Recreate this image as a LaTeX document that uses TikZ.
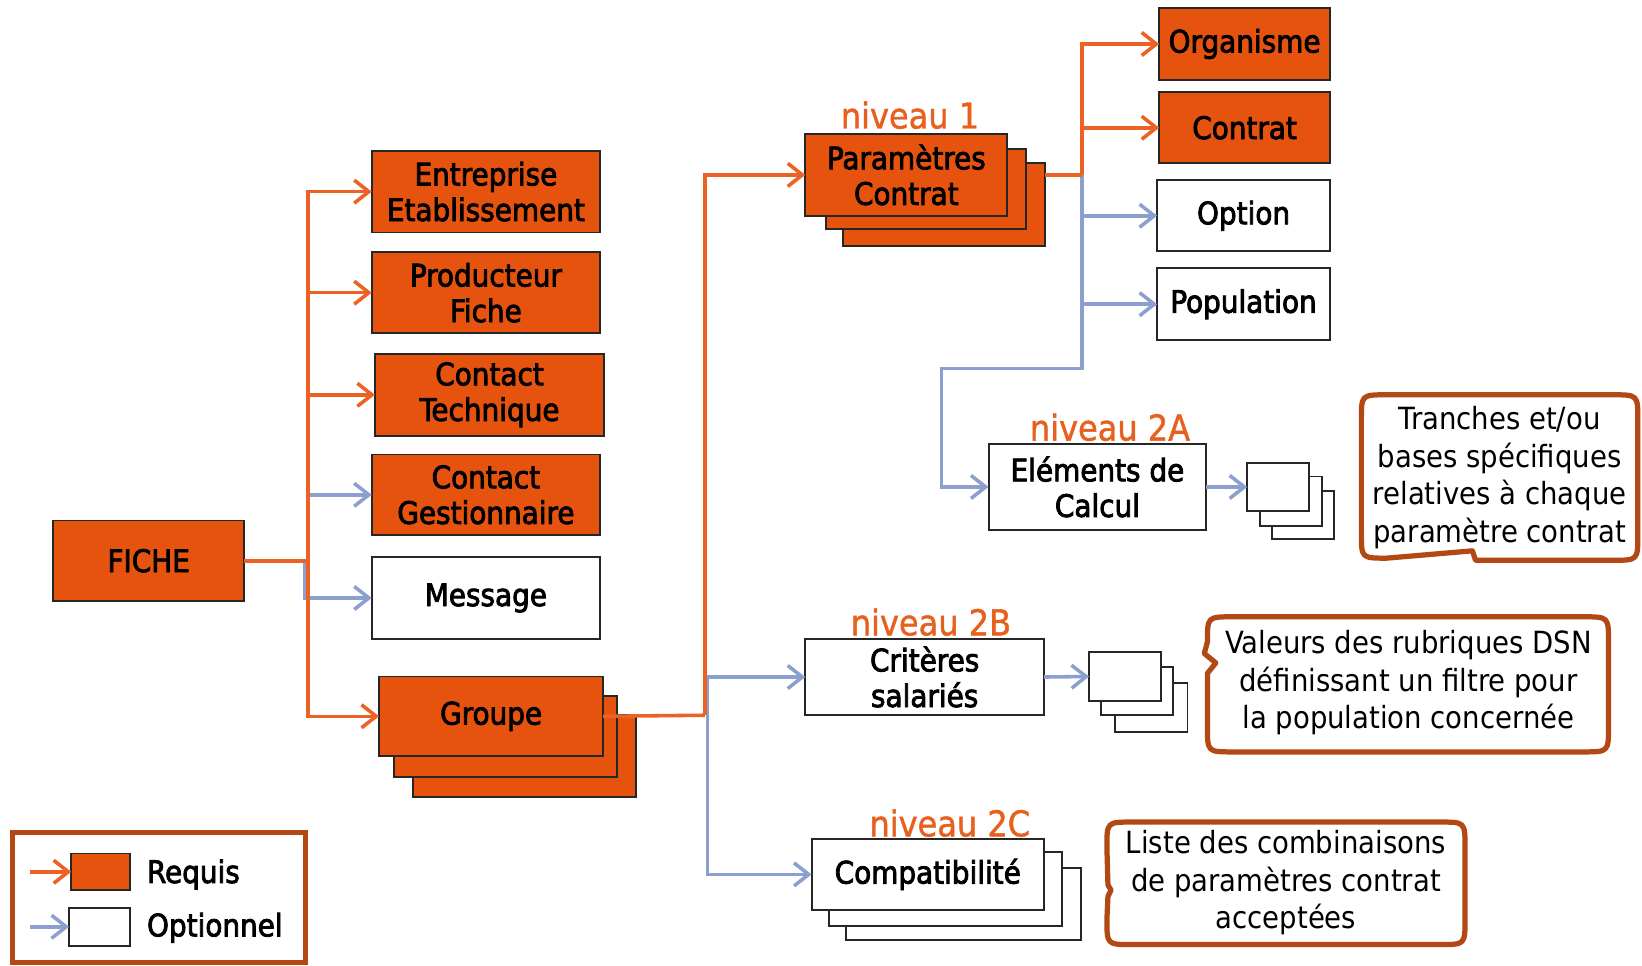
\documentclass[tikz,border=0pt]{standalone}
\usepackage{fontspec}
\setmainfont{DejaVu Sans Condensed}
\newfontfamily\boxfont{DejaVu Sans Condensed}[FakeBold=2.6]
\newfontfamily\nivfont{DejaVu Sans Condensed}[FakeBold=1.2]
\usetikzlibrary{arrows.meta}
\definecolor{orfill}{RGB}{229,83,15}
\definecolor{orline}{RGB}{236,98,36}
\definecolor{blu}{RGB}{140,160,208}
\definecolor{brn}{RGB}{178,72,20}
\definecolor{niv}{RGB}{232,96,30}
\begin{document}
\begin{tikzpicture}[x=0.5pt,y=-0.5pt,
  sz/.style 2 args={minimum width={#1*0.5pt}, minimum height={#2*0.5pt}},
  box/.style={draw=black!85, line width=0.9pt, inner sep=0pt, outer sep=0pt, align=center,
    font=\boxfont\fontsize{14.8}{17}\selectfont},
  reqbox/.style={box, fill=orfill},
  optbox/.style={box, fill=white},
  req/.style={draw=orline, line width=1.7pt},
  opt/.style={draw=blu, line width=1.7pt},
  tip/.style={-{Straight Barb[length=7pt,width=11pt]}},
  niveau/.style={text=niv, font=\nivfont\fontsize{17}{20}\selectfont, inner sep=0pt},
  note/.style={align=center, font=\fontsize{14.6}{18}\selectfont, inner sep=0pt},
  callout/.style={draw=brn, line width=2.5pt, line join=round},
  legtext/.style={anchor=west, inner sep=0pt, font=\boxfont\fontsize{14.8}{16}\selectfont},
]
\useasboundingbox (0,0) rectangle (1568,922);

% ---------- left part
\node[reqbox, sz={182}{77}] (fiche) at (142,535.5) {FICHE};
\node[reqbox, sz={218}{78}] (ent) at (464,183) {Entreprise\\Etablissement};
\node[reqbox, sz={218}{77}] (prod) at (464,279.5) {Producteur\\Fiche};
\node[reqbox, sz={219}{78}] (ctech) at (467.5,377) {Contact\\Technique};
\node[reqbox, sz={218}{77}] (cgest) at (464,472.5) {Contact\\Gestionnaire};
\node[optbox, sz={218}{78}] (msg) at (464,571) {Message};
\node[reqbox, sz={213}{78}] (grp3) at (500.5,722) {};
\node[reqbox, sz={213}{77}] (grp2) at (482.5,703.5) {};
\node[reqbox, sz={214}{76}] (grp) at (469,684) {Groupe};

\coordinate (jf) at (294,535.5);
\coordinate (jfb) at (291.5,535.5);
\draw[opt,tip] (jf) |- (cgest.west);
\draw[opt,tip] (jfb) |- (msg.west);
\draw[req] (fiche.east) -- (jf);
\draw[req,tip] (jf) |- (ent.west);
\draw[req,tip] (jf) |- (prod.west);
\draw[req,tip] (jf) |- (ctech.west);
\draw[req,tip] (jf) |- (grp.west);

% ---------- middle part
\node[reqbox, sz={193}{79}] (par3) at (901.5,195.5) {};
\node[reqbox, sz={191}{77}] (par2) at (884.5,180.5) {};
\node[reqbox, sz={193}{78}] (par) at (865.5,167) {Paramètres\\Contrat};
\node[niveau] (niv1) at (869,110) {niveau 1};

\node[optbox, sz={228}{73}] (crit) at (883,646.5) {Critères\\salariés};
\node[niveau] (niv2b) at (889,594) {niveau 2B};

\node[optbox, sz={224}{69}] (comp3) at (920,863.5) {};
\node[optbox, sz={222}{70}] (comp2) at (903,849) {};
\node[optbox, sz={222}{68}] (comp) at (886,835) {Compatibilité};
\node[niveau] (niv2c) at (907,786) {niveau 2C};

\coordinate (jg) at (673,683);
\coordinate (jgb) at (675.5,683);
\draw[opt,tip] (jgb) |- (crit.west);
\draw[opt,tip] (jgb) |- (comp.west);
\draw[req] (grp.east) -- (jg);
\draw[req,tip] (jg) |- (par.west);

% ---------- right part
\node[reqbox, sz={163}{68}] (org) at (1188.5,42) {Organisme};
\node[reqbox, sz={163}{68}] (con) at (1188.5,122) {Contrat};
\node[optbox, sz={165}{68}] (optn) at (1187.5,206) {Option};
\node[optbox, sz={165}{69}] (popn) at (1187.5,290.5) {Population};

\node[optbox, sz={208}{82}] (elem) at (1048,465) {Eléments de\\Calcul};
\node[niveau] (niv2a) at (1060,408) {niveau 2A};

\node[optbox, sz={59}{46}] (sa3) at (1244.5,492) {};
\node[optbox, sz={59}{47}] (sa2) at (1232.5,478.5) {};
\node[optbox, sz={59}{46}] (sa) at (1220.5,465) {};

\node[optbox, sz={69}{47}] (sb3) at (1099.5,675.5) {};
\node[optbox, sz={69}{46}] (sb2) at (1085.5,660) {};
\node[optbox, sz={69}{46}] (sb) at (1074.5,646) {};

\coordinate (jp) at (1033,167);
\coordinate (jb) at (899,352);
\draw[opt,tip] (jp) |- (optn.west);
\draw[opt,tip] (jp) |- (popn.west);
\draw[opt,tip] (jp) |- (jb) |- (elem.west);
\draw[req] (par3.east |- par.east) -- (jp);
\draw[req,tip] (jp) |- (org.west);
\draw[req,tip] (jp) |- (con.west);

\draw[opt,tip] (elem.east) -- (sa.west);
\draw[opt,tip] (crit.east) -- (sb.west);

% ---------- callouts
\draw[callout] (1324,377) -- (1540,377) .. controls (1564,377) .. (1564,401)
  -- (1564,511) .. controls (1564,535) .. (1540,535) -- (1409,535) -- (1406,526)
  -- (1324,533) .. controls (1300,533) .. (1300,509) -- (1300,401)
  .. controls (1300,377) .. (1324,377) -- cycle;
\node[note] (n1) at (1432,456) {Tranches et/ou\\bases spécifiques\\relatives à chaque\\paramètre contrat};

\draw[callout] (1177,589) -- (1512,589) .. controls (1536,589) .. (1536,613)
  -- (1536,694) .. controls (1536,718) .. (1512,718) -- (1177,718)
  .. controls (1153,718) .. (1153,694) -- (1153,643) -- (1161,633) -- (1150,624)
  -- (1153,613) .. controls (1153,589) .. (1177,589) -- cycle;
\node[note] (n2) at (1345,652) {Valeurs des rubriques DSN\\définissant un filtre pour\\la population concernée};

\draw[callout] (1081,785) -- (1375,785) .. controls (1399,785) .. (1399,809)
  -- (1399,878) .. controls (1399,902) .. (1375,902) -- (1081,902)
  .. controls (1057,902) .. (1057,878) -- (1058,856) -- (1061,850) -- (1058,845)
  -- (1057,809) .. controls (1057,785) .. (1081,785) -- cycle;
\node[note] (n3) at (1228,843) {Liste des combinaisons\\de paramètres contrat\\acceptées};

% ---------- legend
\node[draw=brn, line width=2.5pt, inner sep=0pt, sz={280}{124}] (legend) at (152,857) {};
\node[reqbox, sz={56}{35}] (lgo) at (96,832.5) {};
\node[optbox, sz={58}{36}] (lgw) at (95,885) {};
\coordinate (lga) at (29,832.5);
\coordinate (lgb) at (29,885);
\draw[req,tip] (lga) -- (lgo.west);
\draw[opt,tip] (lgb) -- (lgw.west);
\node[legtext] (lreq) at (140,835) {Requis};
\node[legtext] (lopt) at (140,886) {Optionnel};
\end{tikzpicture}
\end{document}
